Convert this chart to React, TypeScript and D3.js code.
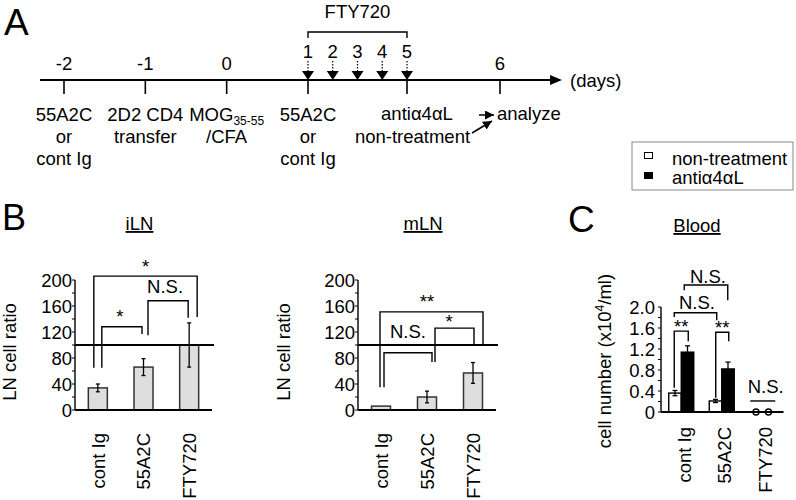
import React from "react";
import * as d3 from "d3";

// ---------- data ----------
const categories = ["cont Ig", "55A2C", "FTY720"];
const iLNValues = [34, 66, 100];
const iLNErrors = [6, 13, 34];
const mLNValues = [6, 20, 57];
const mLNErrors = [0, 9, 16];
const bloodNonTreatment = [0.36, 0.21, 0];
const bloodNonTreatmentErr = [0.05, 0.03, 0];
const bloodAnti = [1.14, 0.82, 0];
const bloodAntiErr = [0.12, 0.13, 0];
const ratioTicks = [0, 40, 80, 120, 160, 200];
const ratioMinor = d3.range(0, 201, 20);
const bloodTicks = [0, 0.4, 0.8, 1.2, 1.6, 2.0];
const bloodMinor = d3.range(0, 2.01, 0.2);
const timelineDays = [-2, -1, 0, 1, 5, 6];
const ftyDays = [1, 2, 3, 4, 5];
const legendLabels = ["non-treatment", "anti\u03b14\u03b1L"];

// significance annotations: category index + leg offset, values in data units
const iLNBrackets = [
  { a: 0, adx: -4, b: 2, bdx: 8, top: 206, la: 65, lb: 143, label: "*", ldx: 0, ldy: -3 },
  { a: 0, adx: 4, b: 1, bdx: -1.5, top: 128, la: 65, lb: 117, label: "*", ldx: -2, ldy: -4 },
  { a: 1, adx: 4.5, b: 2, bdx: -1, top: 168, la: 115, lb: 142, label: "N.S.", ldx: -3, ldy: -8 },
];
const mLNBrackets = [
  { a: 0, adx: -1, b: 2, bdx: 10, top: 151, la: 35, lb: 100, label: "**", ldx: -4.5, ldy: -4 },
  { a: 1, adx: 8, b: 2, bdx: 1, top: 126, la: 74, lb: 100, label: "*", ldx: -5.5, ldy: 0 },
  { a: 0, adx: 3, b: 1, bdx: 5, top: 88, la: 35, lb: 74, label: "N.S.", ldx: 0, ldy: -15 },
];
const bloodBrackets = [
  { a: 0, adx: -7, b: 0, bdx: 7, top: 1.54, la: 0.46, lb: 1.35, label: "**", ldx: 0, ldy: 2 },
  { a: 1, adx: -6, b: 1, bdx: 7, top: 1.52, la: 0.27, lb: 1.35, label: "**", ldx: 0, ldy: 2 },
  { a: 0, adx: -7, b: 1, bdx: -5, top: 1.89, la: 1.81, lb: 1.75, label: "N.S.", ldx: 1.5, ldy: -4 },
  { a: 0, adx: 3, b: 1, bdx: 6, top: 2.42, la: 2.32, lb: 2.13, label: "N.S.", ldx: 2, ldy: -2 },
  { a: 2, adx: -12, b: 2, bdx: 13, top: 0.21, la: 0.21, lb: 0.21, label: "N.S.", ldx: 3, ldy: -8 },
];

const FONT = "'Liberation Sans', Arial, Helvetica, sans-serif";
const FS = 18.5;

function Bracket({ br, x, y }: any) {
  const x1 = x(categories[br.a]) + br.adx;
  const x2 = x(categories[br.b]) + br.bdx;
  const yt = y(br.top);
  return (
    <g>
      <path
        d={`M${x1},${y(br.la)}V${yt}H${x2}V${y(br.lb)}`}
        fill="none"
        stroke="#000"
        strokeWidth={1.4}
      />
      <text x={(x1 + x2) / 2 + br.ldx} y={yt + br.ldy} textAnchor="middle" fontSize={FS}>
        {br.label}
      </text>
    </g>
  );
}

function YAxis({ y, x0, ticks, minor, fmt, labelGap }: any) {
  const [r0, r1] = y.range();
  return (
    <g>
      <line x1={x0} x2={x0} y1={r0} y2={r1} stroke="#000" strokeWidth={1.4} />
      {minor.map((t: number, i: number) => (
        <line key={i} x1={x0 - 3} x2={x0} y1={y(t)} y2={y(t)} stroke="#000" strokeWidth={1} />
      ))}
      {ticks.map((t: number, i: number) => (
        <text key={i} x={x0 - labelGap} y={y(t)} dy="0.36em" textAnchor="end" fontSize={FS}>
          {fmt(t)}
        </text>
      ))}
    </g>
  );
}

function RatioPanel({ values, errors, brackets, x0, x1, title, yLabelX }: any) {
  const y = d3.scaleLinear().domain([0, 200]).range([410, 280]);
  const x = d3.scalePoint<string>().domain(categories).range([x0, x1]).padding(0.5);
  const bw = 19;
  return (
    <g>
      <text x={(x0 + x1) / 2 - 4} y={230} textAnchor="middle" fontSize={FS} textDecoration="underline">
        {title}
      </text>
      <text transform={`translate(${yLabelX},352) rotate(-90)`} textAnchor="middle" fontSize={FS}>
        LN cell ratio
      </text>
      {values.map((v: number, i: number) => {
        const cx = x(categories[i])!;
        const e = errors[i];
        return (
          <g key={i}>
            <rect x={cx - bw / 2} y={y(v)} width={bw} height={y(0) - y(v)} fill="#dedede" stroke="#333" strokeWidth={1.5} />
            {e > 0 && (
              <g stroke="#000" strokeWidth={1.3}>
                <line x1={cx} x2={cx} y1={y(v - e)} y2={y(v + e)} />
                <line x1={cx - 2} x2={cx + 2} y1={y(v - e)} y2={y(v - e)} />
                <line x1={cx - 2} x2={cx + 2} y1={y(v + e)} y2={y(v + e)} />
              </g>
            )}
            <text transform={`translate(${cx},433) rotate(-90)`} dy="0.36em" textAnchor="end" fontSize={FS}>
              {categories[i]}
            </text>
          </g>
        );
      })}
      <YAxis y={y} x0={x0} ticks={ratioTicks} minor={ratioMinor} fmt={(t: number) => String(t)} labelGap={3} />
      <line x1={x0} x2={x1} y1={y(0)} y2={y(0)} stroke="#000" strokeWidth={2} />
      <line x1={x0} x2={x1 + 2} y1={y(100)} y2={y(100)} stroke="#000" strokeWidth={2} />
      {brackets.map((br: any, i: number) => (
        <Bracket key={i} br={br} x={x} y={y} />
      ))}
    </g>
  );
}

function BloodPanel() {
  const x0 = 661;
  const x1 = 782.5;
  const y = d3.scaleLinear().domain([0, 2]).range([412, 307]);
  const x = d3.scalePoint<string>().domain(categories).range([x0, x1]).padding(0.5);
  const bw = 12.5;
  const series = [
    { vals: bloodNonTreatment, errs: bloodNonTreatmentErr, fill: "#fff", off: -bw },
    { vals: bloodAnti, errs: bloodAntiErr, fill: "#000", off: 0 },
  ];
  return (
    <g>
      <text x={697} y={232} textAnchor="middle" fontSize={FS} textDecoration="underline">
        Blood
      </text>
      <text transform={`translate(611,361) rotate(-90)`} textAnchor="middle" fontSize={FS}>
        cell number (x10<tspan fontSize={12} dy={-7}>4</tspan>
        <tspan dy={7}>/ml)</tspan>
      </text>
      {series.map((s, si) =>
        s.vals.map((v, i) => {
          const cx = x(categories[i])!;
          const bx = cx + s.off;
          const mid = bx + bw / 2;
          const e = s.errs[i];
          if (v === 0) {
            return (
              <circle key={`${si}-${i}`} cx={mid} cy={y(0)} r={3} fill="#fff" stroke="#000" strokeWidth={1.4} />
            );
          }
          return (
            <g key={`${si}-${i}`}>
              <rect x={bx} y={y(v)} width={bw} height={y(0) - y(v)} fill={s.fill} stroke="#000" strokeWidth={1.4} />
              <g stroke="#000" strokeWidth={1.3}>
                <line x1={mid} x2={mid} y1={y(v - e)} y2={y(v + e)} />
                <line x1={mid - 2.5} x2={mid + 2.5} y1={y(v + e)} y2={y(v + e)} />
                <line x1={mid - 2.5} x2={mid + 2.5} y1={y(v - e)} y2={y(v - e)} />
              </g>
            </g>
          );
        })
      )}
      {categories.map((c, i) => (
        <text key={i} transform={`translate(${x(c)! + 3},427) rotate(-90)`} dy="0.36em" textAnchor="end" fontSize={FS}>
          {c}
        </text>
      ))}
      <YAxis y={y} x0={x0} ticks={bloodTicks} minor={bloodMinor} fmt={(t: number) => (t === 0 ? "0" : t.toFixed(1))} labelGap={6} />
      <line x1={x0} x2={x1 + 1} y1={y(0)} y2={y(0)} stroke="#000" strokeWidth={2} />
      {bloodBrackets.map((br, i) => (
        <Bracket key={i} br={br} x={x} y={y} />
      ))}
      {/* legend */}
      <rect x={632} y={142} width={161} height={48} fill="#fff" stroke="#888" strokeWidth={1} />
      {legendLabels.map((l, i) => (
        <g key={i}>
          <rect x={644.5} y={152.5 + i * 20} width={8} height={6} fill={i === 0 ? "#fff" : "#000"} stroke="#000" strokeWidth={1} />
          <text x={672} y={165 + i * 19} fontSize={FS}>
            {l}
          </text>
        </g>
      ))}
    </g>
  );
}

function Timeline() {
  const x = d3.scaleLinear().domain([-2, 1, 5, 6]).range([64, 308, 407, 500]);
  const ly = 80;
  const colLabels: { day: number; lines: React.ReactNode[] }[] = [
    { day: -2, lines: ["55A2C", "or", "cont Ig"] },
    { day: -1, lines: ["2D2 CD4", "transfer"] },
    {
      day: 0,
      lines: [
        <>
          MOG<tspan fontSize={12} dy={4}>35-55</tspan>
        </>,
        "/CFA",
      ],
    },
    { day: 1, lines: ["55A2C", "or", "cont Ig"] },
  ];
  return (
    <g>
      <defs>
        <marker id="ah" viewBox="0 0 10 10" refX={10} refY={5} markerWidth={6} markerHeight={6} orient="auto">
          <path d="M0,0L10,5L0,10Z" fill="#000" />
        </marker>
      </defs>
      <text x={4} y={35} fontSize={37}>A</text>
      <line x1={40} x2={551} y1={ly} y2={ly} stroke="#000" strokeWidth={2} />
      <path d={`M550,${ly - 5}L562,${ly}L550,${ly + 5}Z`} fill="#000" />
      <text x={570} y={87} fontSize={FS}>(days)</text>
      {timelineDays.map((d) => (
        <g key={d}>
          <line x1={x(d)} x2={x(d)} y1={ly} y2={ly + 14} stroke="#000" strokeWidth={1.6} />
          {(d < 1 || d > 5) && (
            <text x={x(d)} y={70} textAnchor="middle" fontSize={FS}>
              {d}
            </text>
          )}
        </g>
      ))}
      {ftyDays.map((d) => (
        <g key={d}>
          <text x={x(d)} y={58} textAnchor="middle" fontSize={FS}>
            {d}
          </text>
          <line x1={x(d)} x2={x(d)} y1={61} y2={72} stroke="#000" strokeWidth={1.2} strokeDasharray="1.5,1.5" />
          <path d={`M${x(d) - 6},${ly - 9}L${x(d) + 6},${ly - 9}L${x(d)},${ly}Z`} fill="#000" />
        </g>
      ))}
      <path d={`M${x(1)},38V32H${x(5)}V38`} fill="none" stroke="#000" strokeWidth={1.4} />
      <text x={(x(1) + x(5)) / 2} y={18} textAnchor="middle" fontSize={FS}>FTY720</text>
      {colLabels.map((c, i) =>
        c.lines.map((l, j) => (
          <text key={`${i}-${j}`} x={x(c.day)} y={121 + j * 22} textAnchor="middle" fontSize={FS}>
            {l}
          </text>
        ))
      )}
      <text x={417} y={120} textAnchor="middle" fontSize={FS}>anti{"\u03b1"}4{"\u03b1"}L</text>
      <text x={412.5} y={143} textAnchor="middle" fontSize={FS}>non-treatment</text>
      <line x1={479} x2={494} y1={115} y2={115} stroke="#000" strokeWidth={1.5} markerEnd="url(#ah)" />
      <line x1={472} x2={492} y1={133} y2={121} stroke="#000" strokeWidth={1.5} markerEnd="url(#ah)" />
      <text x={497} y={120} fontSize={FS}>analyze</text>
    </g>
  );
}

export default function App() {
  return (
    <svg
      width={796}
      height={500}
      style={{ position: "absolute", left: 0, top: 0, background: "#fff" }}
      fontFamily={FONT}
    >
      <rect width={796} height={500} fill="#fff" />
      <Timeline />
      <text x={2} y={230} fontSize={36}>B</text>
      <text x={568} y={232} fontSize={37}>C</text>
      <RatioPanel values={iLNValues} errors={iLNErrors} brackets={iLNBrackets} x0={75} x1={212} title="iLN" yLabelX={16} />
      <RatioPanel values={mLNValues} errors={mLNErrors} brackets={mLNBrackets} x0={358} x1={496} title="mLN" yLabelX={290} />
      <BloodPanel />
    </svg>
  );
}
